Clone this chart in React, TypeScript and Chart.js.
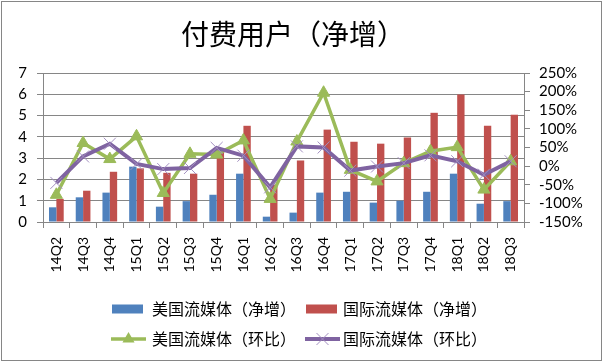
import React, { useEffect, useRef } from "react";
import { Chart, registerables } from "chart.js";

Chart.register(...registerables);

const categories = ["14Q2","14Q3","14Q4","15Q1","15Q2","15Q3","15Q4","16Q1","16Q2","16Q3","16Q4","17Q1","17Q2","17Q3","17Q4","18Q1","18Q2","18Q3"];
const usNet = [0.69,1.16,1.38,2.60,0.72,0.98,1.28,2.27,0.25,0.44,1.38,1.42,0.91,1.00,1.42,2.27,0.86,0.98];
const intlNet = [1.09,1.47,2.36,2.52,2.31,2.27,3.35,4.52,1.75,2.89,4.34,3.77,3.68,3.97,5.13,5.99,4.52,5.04];
const usRatio = [-77,62,19,80,-72,33,31,69,-88,66,197,-10,-41,8,40,51,-63,13];
const intlRatio = [-45,26,60,6,-8,-5,49,28,-57,53,50,-12,-1,8,29,13,-23,13];

const titleText = "付费用户（净增）";
const seriesNames = ["美国流媒体（净增）","国际流媒体（净增）","美国流媒体（环比）","国际流媒体（环比）"];

const BLUE = "#4F81BD";
const RED = "#C0504D";
const GREEN = "#9BBB59";
const PURPLE = "#7F63A1";
const PURPLE_LIGHT = "#A38FC0";
const GRID = "#868686";
const CJK = '"Noto Sans CJK SC", "Noto Sans", sans-serif';

const decorPlugin = {
  id: "decor",
  afterDraw(chart: any) {
    const ctx = chart.ctx;
    ctx.save();
    ctx.strokeStyle = GRID;
    ctx.lineWidth = 1;
    ctx.strokeRect(1.5, 1.5, 600, 359);
    ctx.fillStyle = "#000";
    ctx.font = `28px ${CJK}`;
    ctx.textAlign = "left";
    ctx.textBaseline = "middle";
    ctx.fillText(titleText, 181, 34);
    ctx.font = `16px ${CJK}`;
    const cols = [112, 306];
    const rows = [309, 339];
    ctx.fillStyle = BLUE;
    ctx.fillRect(cols[0], rows[0] - 4.5, 31, 9);
    ctx.fillStyle = RED;
    ctx.fillRect(cols[1], rows[0] - 4.5, 31, 9);
    ctx.strokeStyle = GREEN;
    ctx.lineWidth = 3.5;
    ctx.beginPath();
    ctx.moveTo(cols[0] - 1, rows[1]);
    ctx.lineTo(cols[0] + 34, rows[1]);
    ctx.stroke();
    const cx = cols[0] + 16.5;
    const r = 7;
    ctx.fillStyle = GREEN;
    ctx.beginPath();
    ctx.moveTo(cx, rows[1] - r);
    ctx.lineTo(cx + r * 0.866, rows[1] + r * 0.5);
    ctx.lineTo(cx - r * 0.866, rows[1] + r * 0.5);
    ctx.closePath();
    ctx.fill();
    ctx.strokeStyle = PURPLE;
    ctx.lineWidth = 4;
    ctx.beginPath();
    ctx.moveTo(cols[1] - 1, rows[1]);
    ctx.lineTo(cols[1] + 34, rows[1]);
    ctx.stroke();
    const px = cols[1] + 16.5;
    ctx.strokeStyle = PURPLE_LIGHT;
    ctx.lineWidth = 1;
    ctx.beginPath();
    ctx.moveTo(px - 6, rows[1] - 6);
    ctx.lineTo(px + 6, rows[1] + 6);
    ctx.moveTo(px + 6, rows[1] - 6);
    ctx.lineTo(px - 6, rows[1] + 6);
    ctx.stroke();
    ctx.fillStyle = "#000";
    ctx.textBaseline = "middle";
    ctx.fillText(seriesNames[0], 152, rows[0]);
    ctx.fillText(seriesNames[1], 343, rows[0]);
    ctx.fillText(seriesNames[2], 152, rows[1]);
    ctx.fillText(seriesNames[3], 343, rows[1]);
    ctx.restore();
  },
};

export default function App() {
  const ref = useRef<HTMLCanvasElement | null>(null);
  useEffect(() => {
    let chart: any = null;
    let cancelled = false;
    const loads = [
      document.fonts.load('15px "Lato"'),
      document.fonts.load(`16px ${CJK}`, "美国流媒体（净增）付费用户环比国际"),
      document.fonts.load(`28px ${CJK}`, "付费用户（净增）"),
    ];
    Promise.all(loads).catch(() => {}).then(() => {
      if (cancelled || !ref.current) return;
      const tickFont = { family: "Lato", size: 15 };
      const xFont = { family: "Lato", size: 14 };
      chart = new Chart(ref.current, {
        data: {
          labels: categories,
          datasets: [
            { type: "line", label: seriesNames[3], data: intlRatio, yAxisID: "y1", borderColor: PURPLE, backgroundColor: PURPLE_LIGHT, borderWidth: 4, pointStyle: "crossRot", pointRadius: 8.5, pointBorderWidth: 1, pointBorderColor: PURPLE_LIGHT, order: 1, tension: 0 } as any,
            { type: "line", label: seriesNames[2], data: usRatio, yAxisID: "y1", borderColor: GREEN, backgroundColor: GREEN, borderWidth: 3.5, pointStyle: "triangle", pointRadius: 7, pointBorderWidth: 1, pointBorderColor: GREEN, pointBackgroundColor: GREEN, order: 2, tension: 0 } as any,
            { type: "bar", label: seriesNames[0], data: usNet, yAxisID: "y", backgroundColor: BLUE, barPercentage: 1, categoryPercentage: 0.55, order: 3 } as any,
            { type: "bar", label: seriesNames[1], data: intlNet, yAxisID: "y", backgroundColor: RED, barPercentage: 1, categoryPercentage: 0.55, order: 3 } as any,
          ],
        },
        options: {
          responsive: false,
          animation: false,
          layout: { padding: { top: 73, left: 0, right: 0, bottom: 0 } },
          plugins: { legend: { display: false }, tooltip: { enabled: false }, title: { display: false } },
          scales: {
            x: {
              grid: { offset: true, drawOnChartArea: false, drawTicks: true, tickLength: 6, color: GRID },
              border: { display: true, color: GRID },
              ticks: { minRotation: 90, maxRotation: 90, autoSkip: false, color: "#000", font: xFont, padding: 9 },
              afterFit: (s: any) => { s.height = 142; },
            },
            y: {
              position: "left",
              min: 0,
              max: 7,
              ticks: { stepSize: 1, autoSkip: false, color: "#000", font: tickFont, padding: 10 },
              grid: { color: GRID, tickLength: 6, drawTicks: true },
              border: { display: true, color: GRID },
              afterFit: (s: any) => { s.width = 43; },
            },
            y1: {
              position: "right",
              min: -150,
              max: 250,
              ticks: { stepSize: 50, autoSkip: false, color: "#000", font: tickFont, padding: 9, callback: (v: any) => v + "%" },
              grid: { drawOnChartArea: false, color: GRID, tickLength: 6, drawTicks: true },
              border: { display: true, color: GRID },
              afterFit: (s: any) => { s.width = 79; },
            },
          },
        } as any,
        plugins: [decorPlugin],
      } as any);
    });
    return () => {
      cancelled = true;
      if (chart) chart.destroy();
    };
  }, []);
  return (
    <div style={{ position: "absolute", left: 0, top: 0, width: 603, height: 364, background: "#fff" }}>
      <canvas ref={ref} width={603} height={364} style={{ display: "block", width: 603, height: 364 }} />
    </div>
  );
}
